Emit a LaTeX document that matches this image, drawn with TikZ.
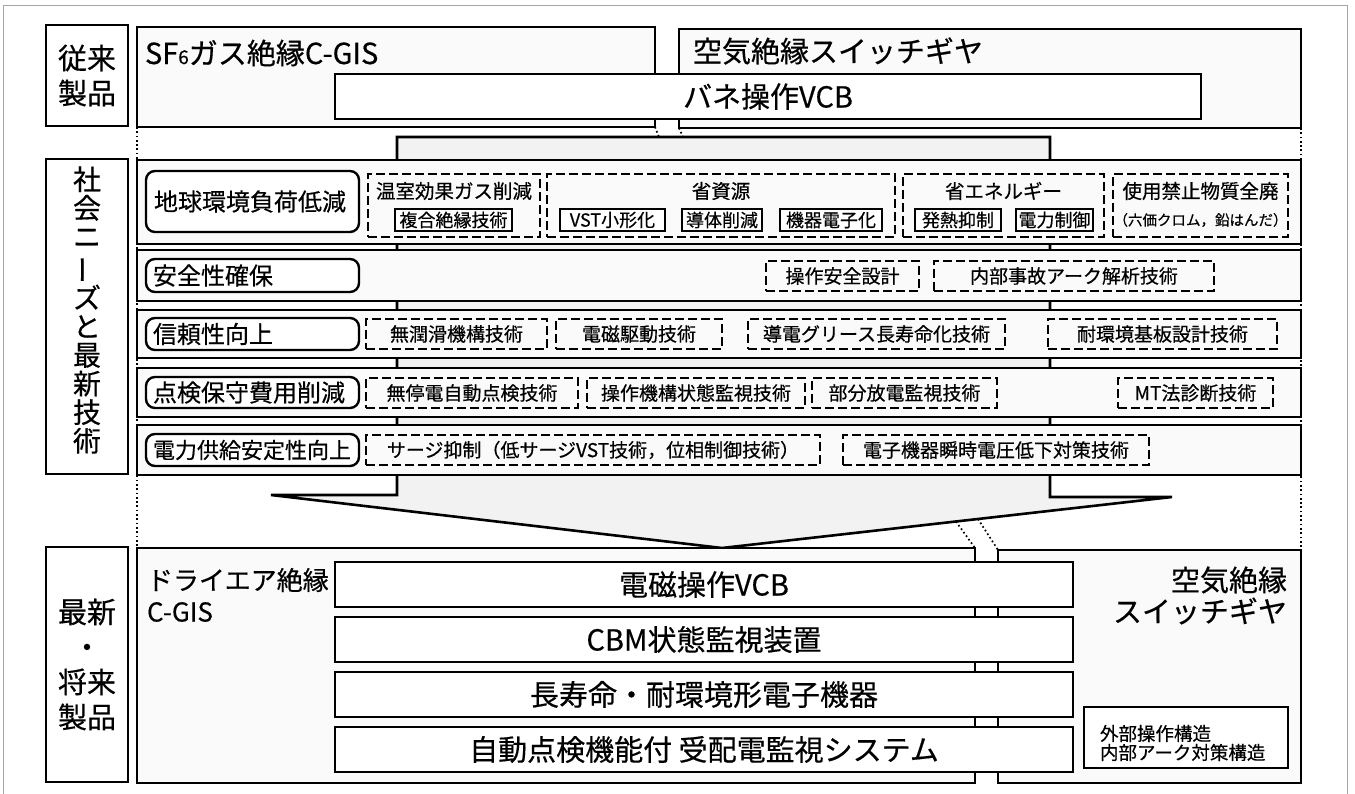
\documentclass[tikz,border=0pt]{standalone}
\usepackage{fontspec}
\usepackage{graphicx}
\setmainfont{Noto Sans CJK JP}[FakeBold=0.45]
\newcommand\bxn[7]{\node[#2, minimum width={#5pt-#3pt}, minimum height={#6pt-#4pt}] (#1) at ({(#3+#5)/2},{(#4+#6)/2}) {#7};}
\begin{document}
\begin{tikzpicture}[x=1pt,y=-1pt,
  every node/.style={inner sep=0pt, outer sep=0pt},
  frm/.style={draw=black, line width=2.6pt},
  bigbox/.style={frm, fill=gray!4},
  whitebox/.style={frm, fill=white},
  rbox/.style={draw=black, line width=2.4pt, rounded corners=9pt, fill=white},
  dbox/.style={draw=black, line width=2pt, dash pattern=on 9pt off 4pt},
  ibox/.style={draw=black, line width=2.2pt, fill=white},
  dotl/.style={line width=1.7pt, dash pattern=on 1.7pt off 2.6pt},
  fbig/.style={font=\fontsize{29}{35}\selectfont},
  fdry/.style={font=\fontsize{26}{32}\selectfont},
  frow/.style={font=\fontsize{24}{28}\selectfont},
  fgrp/.style={font=\fontsize{19.5}{24}\selectfont},
  fitem/.style={font=\fontsize{19}{22}\selectfont},
  fin/.style={font=\fontsize{18}{21}\selectfont},
  fsub/.style={font=\fontsize{14.5}{17}\selectfont},
]
\useasboundingbox (0,0) rectangle (1355,794);
% outer frame
\draw[gray!70, line width=1pt] (3,794) -- (3,6) -- (1347,6) -- (1347,794);

% ---------- top: conventional products ----------
\bxn{lbA}{whitebox,fbig,align=center}{46}{25}{128}{126}{従来\\製品}
\bxn{sf}{bigbox}{137}{27}{655}{127}{}
\node[fbig, anchor=west] (sft) at (145,53) {SF{\fontsize{19}{19}\selectfont 6}ガス絶縁C-GIS};
\bxn{ku}{bigbox}{679}{29}{1301}{128}{}
\node[fbig, anchor=west] (kut) at (693,51) {空気絶縁スイッチギヤ};
\bxn{bane}{whitebox,fbig}{335}{74}{1201}{119}{バネ操作VCB}

% ---------- band + funnel ----------
\coordinate (bt1) at (659,137);
\coordinate (bt2) at (683,137);
\filldraw[fill=gray!10, line width=2.6pt, line join=miter]
  (397,137) -- (1050,137) -- (1050,497) -- (1172,497) -- (722,548)
  -- (271,495) -- (397,495) -- cycle;
\draw[dotl] (sf.south east) -- (bt1);
\draw[dotl] (ku.south west) -- (bt2);

% ---------- middle: social needs ----------
\bxn{lbB}{whitebox}{46}{159}{128}{474}{}
\node[font=\fontsize{28}{28.6}\selectfont, align=center] (lbBt) at (87,310)
  {社\\会\\ニ\\\rotatebox[origin=c]{90}{ー}\\ズ\\と\\最\\新\\技\\術};

\bxn{r1}{bigbox}{137}{160}{1301}{244}{}
\bxn{r2}{bigbox}{137}{250}{1301}{301}{}
\bxn{r3}{bigbox}{137}{310}{1301}{358}{}
\bxn{r4}{bigbox}{137}{368}{1301}{417}{}
\bxn{r5}{bigbox}{137}{425}{1301}{475}{}

% row labels
\bxn{n1}{rbox}{146}{171}{359}{232}{}
\node[frow, anchor=west] (n1t) at (154,201.5) {地球環境負荷低減};
\bxn{n2}{rbox}{146}{259}{359}{292}{}
\node[frow, anchor=west] (n2t) at (153,275.5) {安全性確保};
\bxn{n3}{rbox}{146}{318}{359}{350}{}
\node[frow, anchor=west] (n3t) at (153,334) {信頼性向上};
\bxn{n4}{rbox}{146}{377}{359}{408}{}
\node[frow, anchor=west] (n4t) at (153,392.5) {点検保守費用削減};
\bxn{n5}{rbox}{146}{434}{359}{466}{}
\node[font=\fontsize{22}{26}\selectfont, anchor=west] (n5t) at (153,450) {電力供給安定性向上};

% row 1 groups
\bxn{g1}{dbox}{368}{174}{540}{237}{}
\node[fgrp] (g1t) at (454,191) {温室効果ガス削減};
\bxn{g1a}{ibox,fin}{395}{209}{512}{231}{複合絶縁技術}

\bxn{g2}{dbox}{547}{174}{895}{237}{}
\node[fgrp] (g2t) at (721,191) {省資源};
\bxn{g2a}{ibox,fin}{560}{209}{665}{231}{VST小形化}
\bxn{g2b}{ibox,fin}{682}{209}{762}{231}{導体削減}
\bxn{g2c}{ibox,fin}{780}{209}{882}{231}{機器電子化}

\bxn{g3}{dbox}{903}{174}{1104}{237}{}
\node[fgrp] (g3t) at (1003.5,191) {省エネルギー};
\bxn{g3a}{ibox,fin}{915}{209}{1001}{231}{発熱抑制}
\bxn{g3b}{ibox,fin}{1016}{209}{1093}{231}{電力制御}

\bxn{g4}{dbox}{1113}{174}{1288}{237}{}
\node[fgrp] (g4t) at (1200.5,191) {使用禁止物質全廃};
\node[fsub] (g4s) at (1200.5,220) {（六価クロム，鉛はんだ）};

% row 2
\bxn{s1}{dbox,fitem}{766}{261}{919}{291}{操作安全設計}
\bxn{s2}{dbox,fitem}{934}{261}{1214}{291}{内部事故アーク解析技術}
% row 3
\bxn{t1}{dbox,fitem}{366}{319}{547}{349}{無潤滑機構技術}
\bxn{t2}{dbox,fitem}{556}{319}{722}{349}{電磁駆動技術}
\bxn{t3}{dbox,fitem}{748}{319}{1005}{349}{導電グリース長寿命化技術}
\bxn{t4}{dbox,fitem}{1048}{319}{1277}{349}{耐環境基板設計技術}
% row 4
\bxn{u1}{dbox,fitem}{366}{378}{578}{408}{無停電自動点検技術}
\bxn{u2}{dbox,fitem}{587}{378}{805}{408}{操作機構状態監視技術}
\bxn{u3}{dbox,fitem}{812}{378}{997}{408}{部分放電監視技術}
\bxn{u4}{dbox,fitem}{1118}{378}{1273}{408}{MT法診断技術}
% row 5
\bxn{w1}{dbox,fitem}{366}{435}{820}{465}{サージ抑制（低サージVST技術，位相制御技術）}
\bxn{w2}{dbox,fitem}{843}{435}{1149}{465}{電子機器瞬時電圧低下対策技術}

% ---------- bottom: new / future products ----------
\bxn{lbC}{whitebox,fbig,align=center}{46}{547}{128}{782}{最新\\・\\将来\\製品}
\bxn{dry}{bigbox}{137}{548}{975}{783}{}
\bxn{kub}{bigbox}{998}{550}{1301}{783}{}
\node[fdry, anchor=west] (dryt1) at (147,580) {ドライエア絶縁};
\node[fdry, anchor=west] (dryt2) at (147,612) {C-GIS};
\node[fbig, anchor=east] (kubt1) at (1287,580) {空気絶縁};
\node[fbig, anchor=east] (kubt2) at (1287,611) {スイッチギヤ};

\coordinate (fe1) at (956,521.5);
\coordinate (fe2) at (978,519);
\draw[dotl] (fe1) -- (dry.north east);
\draw[dotl] (fe2) -- (kub.north west);

\bxn{v1}{whitebox,fbig}{335}{562}{1073}{607}{電磁操作VCB}
\bxn{v2}{whitebox,fbig}{335}{617}{1073}{662}{CBM状態監視装置}
\bxn{v3}{whitebox,fbig}{335}{672}{1073}{717}{長寿命・耐環境形電子機器}
\bxn{v4}{whitebox,fbig}{335}{727}{1073}{772}{自動点検機能付 受配電監視システム}

\bxn{sm}{ibox}{1084}{707}{1288}{768}{}
\node[font=\fontsize{18.5}{19}\selectfont, anchor=west, align=left] (smt) at (1100,743)
  {外部操作構造\\内部アーク対策構造};

% side dotted lines
\draw[dotl] (sf.south west) -- (dry.north west);
\draw[dotl] (ku.south east) -- (kub.north east);
\end{tikzpicture}
\end{document}
